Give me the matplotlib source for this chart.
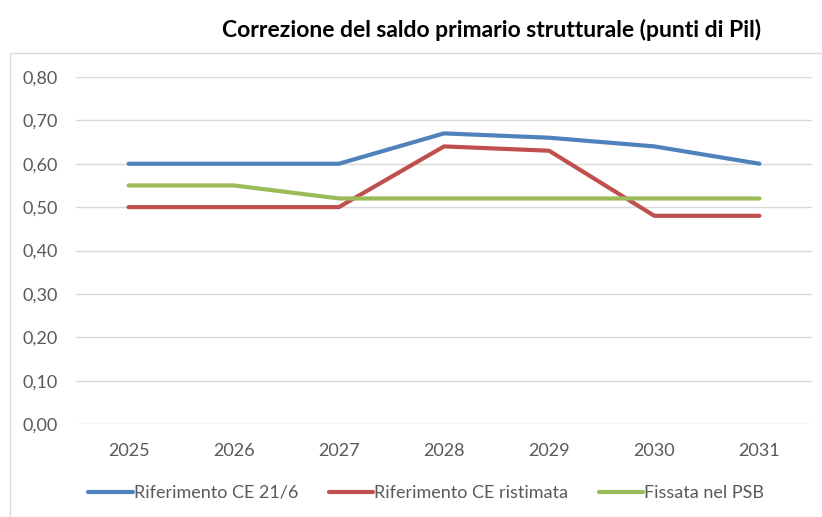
import numpy as np
import matplotlib.pyplot as plt
from matplotlib.patches import Rectangle
from matplotlib.ticker import FuncFormatter

anni = ['2025', '2026', '2027', '2028', '2029', '2030', '2031']
rif_ce_216 = [0.60, 0.60, 0.60, 0.67, 0.66, 0.64, 0.60]
rif_ce_ristimata = [0.50, 0.50, 0.50, 0.64, 0.63, 0.48, 0.48]
fissata_psb = [0.55, 0.55, 0.52, 0.52, 0.52, 0.52, 0.52]

plt.rcParams['font.family'] = ['Lato', 'DejaVu Sans']

fig = plt.figure(figsize=(8.22, 5.17), dpi=100)
# cornice del grafico (tagliata a destra e in basso)
fig.patches.append(Rectangle((10 / 822, -0.1), 1.0, 1 - 53 / 517 + 0.1,
                             transform=fig.transFigure, fill=False,
                             edgecolor='#d9d9d9', lw=1))

ax = fig.add_axes([76 / 822, 1 - 424 / 517, 736 / 822, (424 - 77) / 517])
x = np.arange(len(anni))
ax.plot(x, rif_ce_216, color='#4f81bd', lw=3, solid_capstyle='round', label='Riferimento CE 21/6')
ax.plot(x, rif_ce_ristimata, color='#c0504d', lw=3, solid_capstyle='round', label='Riferimento CE ristimata')
ax.plot(x, fissata_psb, color='#9bbb59', lw=3, solid_capstyle='round', label='Fissata nel PSB')

ax.set_xlim(-0.5, 6.5)
ax.set_ylim(0, 0.8)
ax.set_yticks(np.arange(0, 0.81, 0.1))
ax.yaxis.set_major_formatter(FuncFormatter(lambda v, p: f'{v:.2f}'.replace('.', ',')))
ax.set_xticks(x)
ax.set_xticklabels(anni)
ax.grid(axis='y', color='#d9d9d9', lw=1)
ax.set_axisbelow(True)
for s in ax.spines.values():
    s.set_visible(False)
ax.tick_params(length=0, labelsize=13, colors='#595959')
ax.tick_params(axis='y', pad=13)
ax.tick_params(axis='x', pad=14)

fig.text(492 / 822, 1 - 30 / 517, 'Correzione del saldo primario strutturale (punti di Pil)',
         ha='center', va='center', fontsize=16.5, fontweight='bold')

fig.legend(loc='center', bbox_to_anchor=(426 / 822, 1 - 493 / 517), ncol=3, frameon=False,
           fontsize=13, handlelength=2.45, handletextpad=0.05, columnspacing=1.7,
           labelcolor='#595959')

fig.savefig('out.png', dpi=100)
